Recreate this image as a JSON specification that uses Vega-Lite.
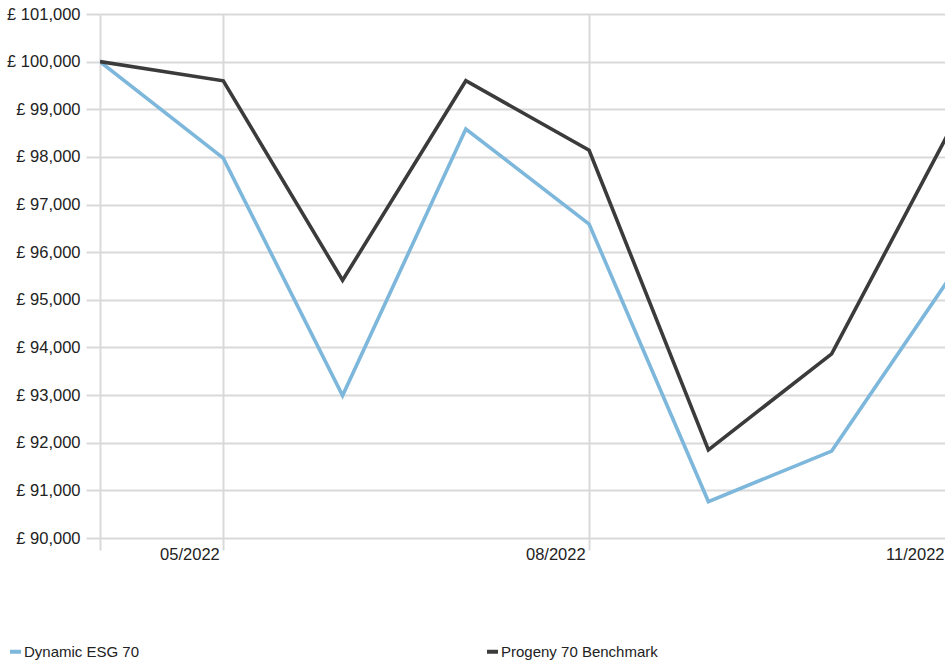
{
  "$schema": "https://vega.github.io/schema/vega-lite/v6.json",
  "width": 845,
  "height": 524,
  "autosize": {"type": "none"},
  "padding": {"left": 100, "top": 14, "right": 0, "bottom": 129},
  "background": "white",
  "data": {
    "values": [
      {"date": "2022-04-30", "series": "Dynamic ESG 70", "value": 100000},
      {"date": "2022-05-31", "series": "Dynamic ESG 70", "value": 97975},
      {"date": "2022-06-30", "series": "Dynamic ESG 70", "value": 92990},
      {"date": "2022-07-31", "series": "Dynamic ESG 70", "value": 98586},
      {"date": "2022-08-31", "series": "Dynamic ESG 70", "value": 96590},
      {"date": "2022-09-30", "series": "Dynamic ESG 70", "value": 90765},
      {"date": "2022-10-31", "series": "Dynamic ESG 70", "value": 91825},
      {"date": "2022-11-30", "series": "Dynamic ESG 70", "value": 95500},
      {"date": "2022-04-30", "series": "Progeny 70 Benchmark", "value": 100000},
      {"date": "2022-05-31", "series": "Progeny 70 Benchmark", "value": 99597},
      {"date": "2022-06-30", "series": "Progeny 70 Benchmark", "value": 95410},
      {"date": "2022-07-31", "series": "Progeny 70 Benchmark", "value": 99600},
      {"date": "2022-08-31", "series": "Progeny 70 Benchmark", "value": 98140},
      {"date": "2022-09-30", "series": "Progeny 70 Benchmark", "value": 91850},
      {"date": "2022-10-31", "series": "Progeny 70 Benchmark", "value": 93865},
      {"date": "2022-11-30", "series": "Progeny 70 Benchmark", "value": 98600}
    ]
  },
  "mark": {"type": "line", "clip": true, "strokeWidth": 3.6, "strokeJoin": "miter", "strokeCap": "butt"},
  "encoding": {
    "x": {
      "field": "date",
      "type": "temporal",
      "scale": {
        "type": "utc",
        "domain": [
          {"year": 2022, "month": 4, "date": 30, "utc": true},
          {"year": 2022, "month": 11, "date": 28, "hours": 12, "utc": true}
        ]
      },
      "axis": {
        "title": null,
        "values": [
          {"year": 2022, "month": 4, "date": 30, "utc": true},
          {"year": 2022, "month": 5, "date": 31, "utc": true},
          {"year": 2022, "month": 8, "date": 31, "utc": true},
          {"year": 2022, "month": 11, "date": 28, "hours": 12, "utc": true}
        ],
        "labelExpr": "utcmonth(datum.value) == 3 ? '' : utcFormat(datum.value, '%m/%Y')",
        "labelAlign": "right",
        "labelBaseline": "top",
        "labelOffset": {"condition": {"test": "utcmonth(datum.value) == 10", "value": -1}, "value": -4},
        "labelPadding": -4,
        "labelFont": "Liberation Sans",
        "labelFontSize": 16.5,
        "labelColor": "#222222",
        "labelBound": false,
        "labelOverlap": false,
        "labelFlush": false,
        "domain": false,
        "grid": true,
        "gridColor": "#d9d9d9",
        "gridWidth": 2,
        "gridOpacity": {"condition": {"test": "utcmonth(datum.value) == 10", "value": 0}, "value": 1},
        "ticks": true,
        "tickSize": 12,
        "tickColor": "#d9d9d9",
        "tickWidth": 2,
        "tickOpacity": {"condition": {"test": "utcmonth(datum.value) == 10", "value": 0}, "value": 1}
      }
    },
    "y": {
      "field": "value",
      "type": "quantitative",
      "scale": {"domain": [90000, 101000], "nice": false, "zero": false},
      "axis": {
        "title": null,
        "values": [90000, 91000, 92000, 93000, 94000, 95000, 96000, 97000, 98000, 99000, 100000, 101000],
        "labelExpr": "'£ ' + format(datum.value, ',')",
        "labelFont": "Liberation Sans",
        "labelFontSize": 16.5,
        "labelColor": "#222222",
        "labelPadding": 6,
        "domain": false,
        "grid": true,
        "gridColor": "#d9d9d9",
        "gridWidth": 2,
        "ticks": true,
        "tickSize": 14,
        "tickColor": "#d9d9d9",
        "tickWidth": 2
      }
    },
    "color": {
      "field": "series",
      "type": "nominal",
      "scale": {
        "domain": ["Dynamic ESG 70", "Progeny 70 Benchmark"],
        "range": ["#7db7db", "#3b3b3b"]
      },
      "legend": {
        "title": null,
        "orient": "none",
        "legendX": -92,
        "legendY": 630,
        "direction": "horizontal",
        "columns": 2,
        "columnPadding": 339,
        "symbolType": "stroke",
        "symbolSize": 121,
        "symbolStrokeWidth": 4,
        "labelOffset": 1,
        "labelFont": "Liberation Sans",
        "labelFontSize": 15,
        "labelColor": "#222222"
      }
    }
  },
  "config": {"view": {"stroke": null}}
}
